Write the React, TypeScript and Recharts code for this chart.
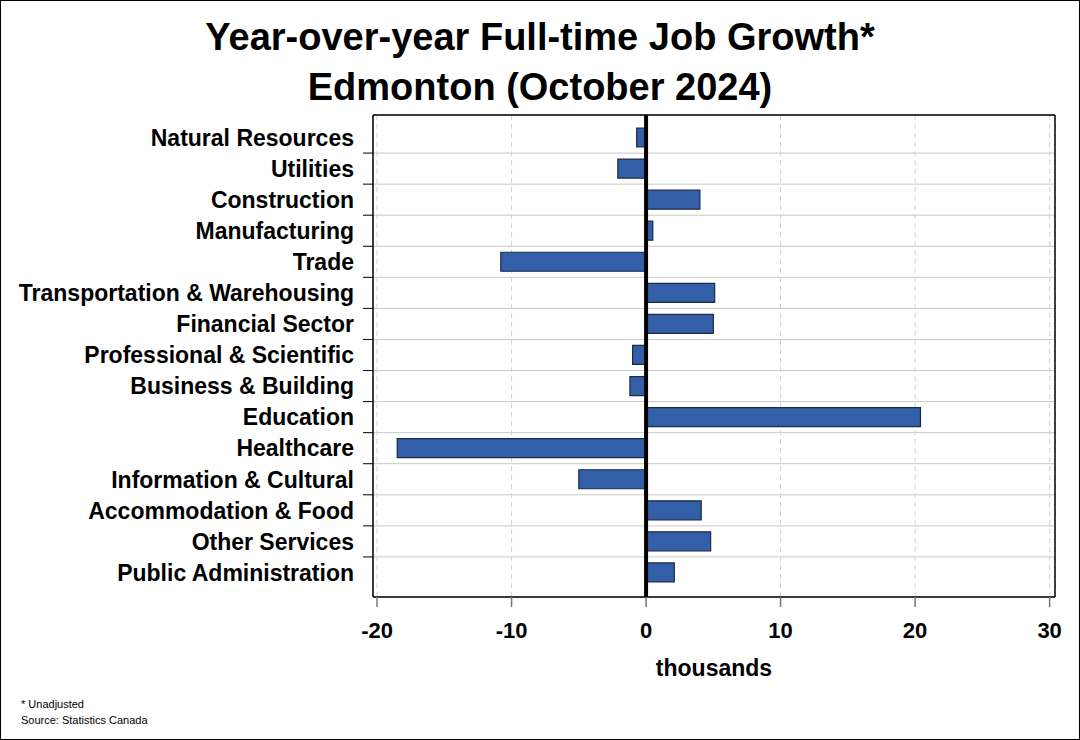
import React from "react";
import {
  BarChart,
  Bar,
  XAxis,
  YAxis,
  CartesianGrid,
  ReferenceLine,
} from "recharts";

const CATEGORIES = [
  "Natural Resources",
  "Utilities",
  "Construction",
  "Manufacturing",
  "Trade",
  "Transportation & Warehousing",
  "Financial Sector",
  "Professional & Scientific",
  "Business & Building",
  "Education",
  "Healthcare",
  "Information & Cultural",
  "Accommodation & Food",
  "Other Services",
  "Public Administration",
];

// year-over-year change, thousands
const CHANGE = [
  -0.7, -2.1, 4.0, 0.5, -10.8, 5.1, 5.0, -1.0, -1.2, 20.4, -18.5, -5.0, 4.1, 4.8, 2.1,
];

const X_TICKS = [-20, -10, 0, 10, 20, 30];
const X_DOMAIN: [number, number] = [-20.3, 30.4];

// hidden row-index axis (0 = first category); rules go halfway between rows
const ROW_DOMAIN: [number, number] = [0, CATEGORIES.length - 1];
const ROW_EDGES = CATEGORIES.slice(1).map((_, i) => i + 0.5);

const FONT = "'Liberation Sans', Arial, Helvetica, sans-serif";
const BAR_FILL = "#335EA8";
const BAR_STROKE = "#1B2A48";
const PAD = { top: 7, bottom: 9 };
// same padding plus half a row (482px plot, 15 rows)
const HALF_ROW = (482 - PAD.top - PAD.bottom) / CATEGORIES.length / 2;
const ROW_PAD = { top: PAD.top + HALF_ROW, bottom: PAD.bottom + HALF_ROW };

const chartData = CATEGORIES.map((name, i) => ({ name, value: CHANGE[i] }));

// category label, plus a short tick at the boundary above it (not for the first row)
function CategoryTick(props: any) {
  const { x, y, payload, index } = props;
  const half = payload?.offset ?? 0;
  return (
    <g>
      {index > 0 && (
        <line
          x1={x + 9}
          x2={x + 19}
          y1={y - half}
          y2={y - half}
          stroke="#000"
          strokeWidth={1}
        />
      )}
      <text
        x={x}
        y={y}
        dy="0.36em"
        textAnchor="end"
        fontFamily={FONT}
        fontWeight="bold"
        fontSize={23}
        fill="#000"
      >
        {payload.value}
      </text>
    </g>
  );
}

export default function App() {
  return (
    <div
      style={{
        position: "fixed",
        left: 0,
        top: 0,
        width: 1080,
        height: 740,
        border: "1px solid #000",
        boxSizing: "border-box",
        background: "#fff",
        fontFamily: FONT,
      }}
    >
      <div
        style={{
          position: "absolute",
          left: -1,
          top: 11,
          width: 1080,
          textAlign: "center",
          fontSize: 38,
          fontWeight: "bold",
          lineHeight: "50px",
          color: "#000",
        }}
      >
        <div>Year-over-year Full-time Job Growth*</div>
        <div>Edmonton (October 2024)</div>
      </div>

      <div style={{ position: "absolute", left: -1, top: -1 }}>
        <BarChart
          width={1080}
          height={740}
          data={chartData}
          layout="vertical"
          margin={{ top: 114, right: 24, bottom: 0, left: 0 }}
        >
          <CartesianGrid
            vertical={false}
            yAxisId="rows"
            stroke="#c8c8c8"
          />
          <CartesianGrid
            horizontal={false}
            stroke="#d2d2d2"
            strokeDasharray="5 4"
          />
          <XAxis
            type="number"
            domain={X_DOMAIN}
            ticks={X_TICKS}
            allowDataOverflow
            height={143}
            axisLine={{ stroke: "#000", strokeWidth: 1.5 }}
            tickLine={{ stroke: "#777", strokeWidth: 1.5 }}
            tickSize={10}
            tickMargin={15}
            tick={{ fill: "#000", fontSize: 22, fontWeight: "bold", fontFamily: FONT }}
            label={{
              value: "thousands",
              position: "insideTop",
              offset: 63,
              fill: "#000",
              fontSize: 23,
              fontWeight: "bold",
              fontFamily: FONT,
            }}
          />
          <XAxis
            xAxisId="top"
            orientation="top"
            type="number"
            domain={X_DOMAIN}
            allowDataOverflow
            height={1}
            tick={false}
            tickLine={false}
            axisLine={{ stroke: "#000", strokeWidth: 1.5 }}
          />
          <YAxis
            type="category"
            dataKey="name"
            width={373}
            padding={PAD}
            axisLine={{ stroke: "#000", strokeWidth: 1.5 }}
            tickLine={false}
            tickSize={10}
            tickMargin={9}
            interval={0}
            tick={<CategoryTick />}
          />
          <YAxis
            yAxisId="rows"
            type="number"
            domain={ROW_DOMAIN}
            allowDataOverflow
            ticks={ROW_EDGES}
            reversed
            padding={ROW_PAD}
            hide
          />
          <YAxis
            yAxisId="right"
            orientation="right"
            type="number"
            domain={[0, 1]}
            width={1}
            tick={false}
            tickLine={false}
            axisLine={{ stroke: "#000", strokeWidth: 1.5 }}
          />
          <Bar
            dataKey="value"
            fill={BAR_FILL}
            stroke={BAR_STROKE}
            strokeWidth={1.2}
            barSize={19}
            isAnimationActive={false}
          />
          <ReferenceLine x={0} stroke="#000" strokeWidth={4} />
        </BarChart>
      </div>

      <div
        style={{
          position: "absolute",
          left: 20,
          top: 695,
          fontSize: 11,
          lineHeight: "16px",
          color: "#000",
        }}
      >
        <div>* Unadjusted</div>
        <div>Source: Statistics Canada</div>
      </div>
    </div>
  );
}
